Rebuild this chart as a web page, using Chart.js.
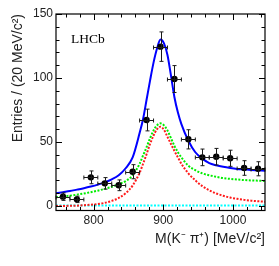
<!DOCTYPE html>
<html><head><meta charset="utf-8">
<script src="https://cdn.jsdelivr.net/npm/chart.js@4.4.1/dist/chart.umd.min.js"></script>
<style>html,body{margin:0;padding:0;background:#fff}#c{display:block}</style>
</head><body>
<canvas id="c" width="279" height="266"></canvas>
<script>
// ---- data ----
const binCenters = [756,776,796,816,836,856,876,896,916,936,956,976,996,1016,1036];
const counts     = [7.3,5.2,22.4,17.7,16.2,26.8,67.2,124.5,99.2,52.1,38.0,38.5,37.3,29.7,29.1];
const countErrors= [2.9,2.5,5.0,4.5,4.2,5.5,8.5,11.5,10.5,7.5,6.5,6.5,6.3,5.7,5.5];
const binHalfWidth = 10;

const curveX   = [746,756,766,776,786,796,806,816,826,836,846,856,866,871,876,881,886,891,896,901,906,911,916,921,926,936,946,956,966,976,986,996,1006,1016,1026,1036,1046];
const totalFit = [9.9,10.8,11.7,12.8,13.9,15.2,16.7,18.5,20.8,24,29.5,38,57,68,83,98,112,123,130,127,118,102,85,73,64,51,42,37,33.5,31.8,30.6,29.7,29,28.6,28.2,27.9,27.6];
const compGreen= [6.8,7.4,8.1,8.9,9.8,10.8,12,13.4,15,17,19.5,24,33,39.5,46,53,59,63,64.6,63,59,53,47,42,38,31.5,28,25.5,24,22.8,21.8,21.2,20.7,20.3,20,19.8,19.6];
const compRed  = [0,0.05,0.15,0.3,0.6,1,1.6,2.5,4,6.3,10,16,26,33,40.5,48.5,55,60,62,59.5,54,48.5,43,38,33,25.5,20,15.5,12.3,9.8,8,6.6,5.6,4.8,4.2,3.7,3.4];
const cyanX    = [746,1046];
const compCyan = [0.4,0.4];

const xTicks = [800,900,1000];
const yTicks = [0,50,100,150];
const xRange = [746,1046];
const yRange = [-3.5,150];

const FONT = 'Liberation Sans, Arial, Helvetica, sans-serif';

const framePlugin = {
  id: 'frame',
  afterDatasetsDraw(chart) {
    const {ctx, chartArea: a, scales: {x, y}} = chart;
    ctx.save();
    // error bars
    ctx.strokeStyle = '#1a1a1a';
    ctx.lineWidth = 1;
    binCenters.forEach((c, i) => {
      const px = Math.round(x.getPixelForValue(c)) + 0.5;
      const py = Math.round(y.getPixelForValue(counts[i])) + 0.5;
      const x0 = x.getPixelForValue(c - binHalfWidth), x1 = x.getPixelForValue(c + binHalfWidth);
      const y0 = y.getPixelForValue(counts[i] - countErrors[i]), y1 = y.getPixelForValue(counts[i] + countErrors[i]);
      ctx.beginPath();
      ctx.moveTo(x0, py); ctx.lineTo(x1, py);
      ctx.moveTo(px, y0); ctx.lineTo(px, y1);
      ctx.moveTo(x0, py - 2); ctx.lineTo(x0, py + 2);
      ctx.moveTo(x1, py - 2); ctx.lineTo(x1, py + 2);
      ctx.moveTo(px - 2, y0); ctx.lineTo(px + 2, y0);
      ctx.moveTo(px - 2, y1); ctx.lineTo(px + 2, y1);
      ctx.stroke();
    });
    // frame
    ctx.strokeStyle = '#000';
    ctx.lineWidth = 1.2;
    ctx.strokeRect(a.left, a.top, a.right - a.left, a.bottom - a.top);
    // ticks (inward)
    ctx.lineWidth = 1;
    ctx.beginPath();
    for (let v = 760; v <= 1040; v += 20) {
      const len = xTicks.includes(v) ? 6 : 3.5;
      const px = Math.round(x.getPixelForValue(v)) + 0.5;
      ctx.moveTo(px, a.bottom); ctx.lineTo(px, a.bottom - len);
      ctx.moveTo(px, a.top); ctx.lineTo(px, a.top + len);
    }
    for (let v = 0; v <= 150; v += 10) {
      const len = yTicks.includes(v) ? 6 : 3.5;
      const py = Math.round(y.getPixelForValue(v)) + 0.5;
      ctx.moveTo(a.left, py); ctx.lineTo(a.left + len, py);
      ctx.moveTo(a.right, py); ctx.lineTo(a.right - len, py);
    }
    ctx.stroke();
    // LHCb label
    ctx.fillStyle = '#000';
    ctx.font = '13.5px "Liberation Serif", "Times New Roman", serif';
    ctx.textBaseline = 'alphabetic';
    ctx.textAlign = 'left';
    ctx.fillText('LHCb', a.left + 15, a.top + 29);
    ctx.restore();
  }
};

new Chart(document.getElementById('c'), {
  type: 'scatter',
  data: {
    datasets: [
      { type: 'scatter', data: binCenters.map((c, i) => ({x: c, y: counts[i]})),
        pointRadius: 3.2, pointBackgroundColor: '#000', pointBorderColor: '#000', pointBorderWidth: 0, order: 0 },
      { type: 'line', data: curveX.map((c, i) => ({x: c, y: totalFit[i]})), borderColor: '#0000ff', borderWidth: 2,
        pointRadius: 0, cubicInterpolationMode: 'monotone', fill: false, order: 1 },
      { type: 'line', data: curveX.map((c, i) => ({x: c, y: compGreen[i]})), borderColor: '#00ee00', borderWidth: 2,
        borderDash: [2, 1.5], pointRadius: 0, cubicInterpolationMode: 'monotone', fill: false, order: 2 },
      { type: 'line', data: curveX.map((c, i) => ({x: c, y: compRed[i]})), borderColor: '#ff1a1a', borderWidth: 2,
        borderDash: [2, 1.5], pointRadius: 0, cubicInterpolationMode: 'monotone', fill: false, order: 3 },
      { type: 'line', data: cyanX.map((c, i) => ({x: c, y: compCyan[i]})), borderColor: '#00ffff', borderWidth: 2,
        borderDash: [2, 1.5], pointRadius: 0, fill: false, order: 4 }
    ]
  },
  options: {
    responsive: false,
    animation: false,
    devicePixelRatio: 1,
    layout: { padding: { top: 14, right: 14, left: 0, bottom: 0 } },
    plugins: { legend: { display: false }, tooltip: { enabled: false } },
    scales: {
      x: {
        type: 'linear', min: xRange[0], max: xRange[1],
        afterBuildTicks: s => { s.ticks = xTicks.map(v => ({value: v})); },
        afterFit: s => { s.height = 55.5; },
        grid: { display: false, drawTicks: false }, border: { display: false },
        ticks: { font: { family: FONT, size: 12 }, color: '#222', padding: 3, maxRotation: 0, autoSkip: false,
                 callback: v => String(v) },
        title: { display: true, text: 'M(K\u207B \u03C0\u207A) [MeV/c\u00B2]', align: 'end',
                 font: { family: FONT, size: 14 }, color: '#222', padding: { top: 0, bottom: 18.6 } }
      },
      y: {
        type: 'linear', min: yRange[0], max: yRange[1],
        afterBuildTicks: s => { s.ticks = yTicks.map(v => ({value: v})); },
        afterFit: s => { s.width = 56; },
        grid: { display: false, drawTicks: false }, border: { display: false },
        ticks: { font: { family: FONT, size: 12 }, color: '#222', padding: 3, autoSkip: false,
                 callback: v => String(v) },
        title: { display: true, text: 'Entries / (20 MeV/c\u00B2)', align: 'end',
                 font: { family: FONT, size: 14 }, color: '#222', padding: { top: 9.6, bottom: 0 } }
      }
    }
  },
  plugins: [framePlugin]
});
</script>
</body></html>
